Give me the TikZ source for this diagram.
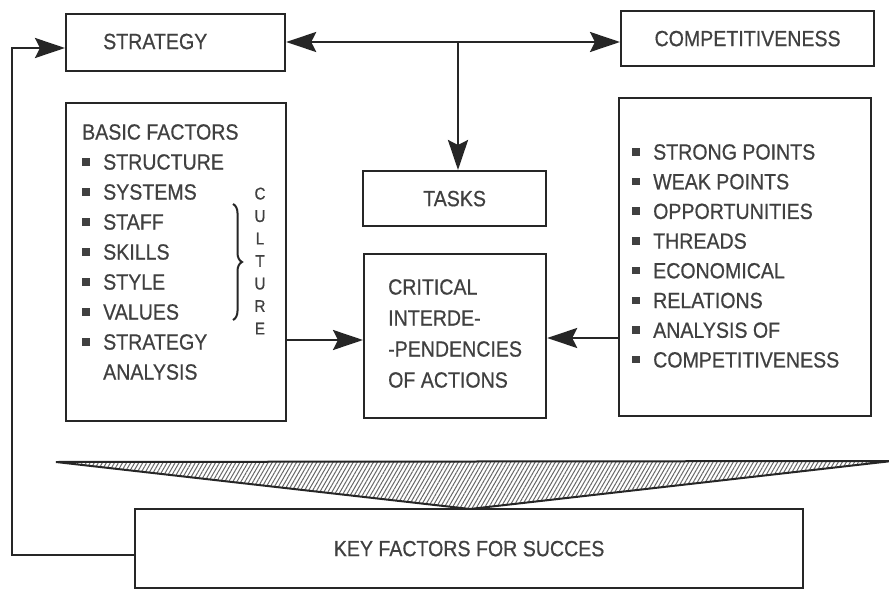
\documentclass[tikz,border=0pt]{standalone}
\usepackage{fontspec}
\setmainfont{Liberation Sans}[FakeStretch=0.89,FakeBold=0.6]
\usetikzlibrary{arrows.meta,calc,patterns.meta,decorations.pathreplacing}
\definecolor{ink}{HTML}{262626}
\definecolor{txt}{HTML}{404040}
\newcommand{\blt}{\makebox[21pt][l]{\raisebox{4pt}{\rule{7.5pt}{7.5pt}}}}
\newcommand{\nblt}{\makebox[21pt][l]{}}
\tikzset{bigtip/.tip={Stealth[length=30pt,width=20pt,inset=5pt]}}
\begin{document}
\begin{tikzpicture}[x=1pt,y=-1pt,
 box/.style={draw=ink, line width=2.2pt, inner sep=0pt, fill=white},
 lbl/.style={text=txt, inner sep=0pt, font=\fontsize{22}{29.7}\selectfont},
 conn/.style={draw=ink, line width=2.6pt},
]
\useasboundingbox (0,0) rectangle (889,591);
\fill[white] (0,0) rectangle (889,591);

% boxes
\node[box, anchor=north west, minimum width=219pt, minimum height=57pt] (strategy) at (65,13) {};
\node[lbl, anchor=west] (strategyT) at (103,41.5) {STRATEGY};
\node[box, lbl, anchor=north west, minimum width=253pt, minimum height=55pt] (comp) at (620,10) {COMPETITIVENESS};
\node[box, lbl, anchor=north west, minimum width=183pt, minimum height=55pt] (tasks) at (362,170) {TASKS};
\node[box, anchor=north west, minimum width=182pt, minimum height=164pt] (crit) at (363,253) {};
\node[lbl, anchor=north west, align=left, font=\fontsize{22}{31}\selectfont] (critT) at (388,279)
  {CRITICAL\\INTERDE-\\-PENDENCIES\\OF ACTIONS};

\node[box, anchor=north west, minimum width=220pt, minimum height=318pt] (basic) at (65,102) {};
\node[lbl, anchor=north west, align=left, font=\fontsize{22}{30}\selectfont] (basicT) at (82,124)
  {BASIC FACTORS\\\blt STRUCTURE\\\blt SYSTEMS\\\blt STAFF\\\blt SKILLS\\\blt STYLE\\\blt VALUES\\\blt STRATEGY\\\nblt ANALYSIS};
\node[text=txt, inner sep=0pt, align=center, font=\fontsize{17}{22.5}\selectfont] (culture) at (260,261)
  {C\\U\\L\\T\\U\\R\\E};
\draw[decorate, decoration={brace, amplitude=9pt}, line width=2pt, ink] (233,204) -- (233,320);

\node[box, anchor=north west, minimum width=252pt, minimum height=318pt] (swot) at (618,97) {};
\node[lbl, anchor=north west, align=left] (swotT) at (632,144)
  {\blt STRONG POINTS\\\blt WEAK POINTS\\\blt OPPORTUNITIES\\\blt THREADS\\\blt ECONOMICAL\\\blt RELATIONS\\\blt ANALYSIS OF\\\blt COMPETITIVENESS};

% funnel
\draw[ink, line width=2pt, pattern={Lines[angle=60,distance=3.5pt,line width=1pt]}, pattern color=ink!70]
  (56,462) -- (892,461) -- (470,509) -- cycle;

\node[box, lbl, anchor=north west, minimum width=668pt, minimum height=79pt] (key) at (134,508) {KEY FACTORS FOR SUCCES};

% connectors
\coordinate (j) at (458,42);
\coordinate (ya) at (0,340);
\coordinate (yb) at (0,338);
\coordinate (yl) at (0,555);
\coordinate (ys) at (0,48);
\coordinate (c1) at (12,555);
\coordinate (c2) at (12,48);
\draw[conn, bigtip-bigtip] (strategy.east |- j) -- (comp.west |- j);
\draw[conn, -bigtip] (j) -- (j |- tasks.north);
\draw[conn, -bigtip] (basic.east |- ya) -- (crit.west |- ya);
\draw[conn, -bigtip] (swot.west |- yb) -- (crit.east |- yb);
\draw[conn, -bigtip] (key.west |- yl) -- (c1) -- (c2) -- (strategy.west |- ys);
\end{tikzpicture}
\end{document}
